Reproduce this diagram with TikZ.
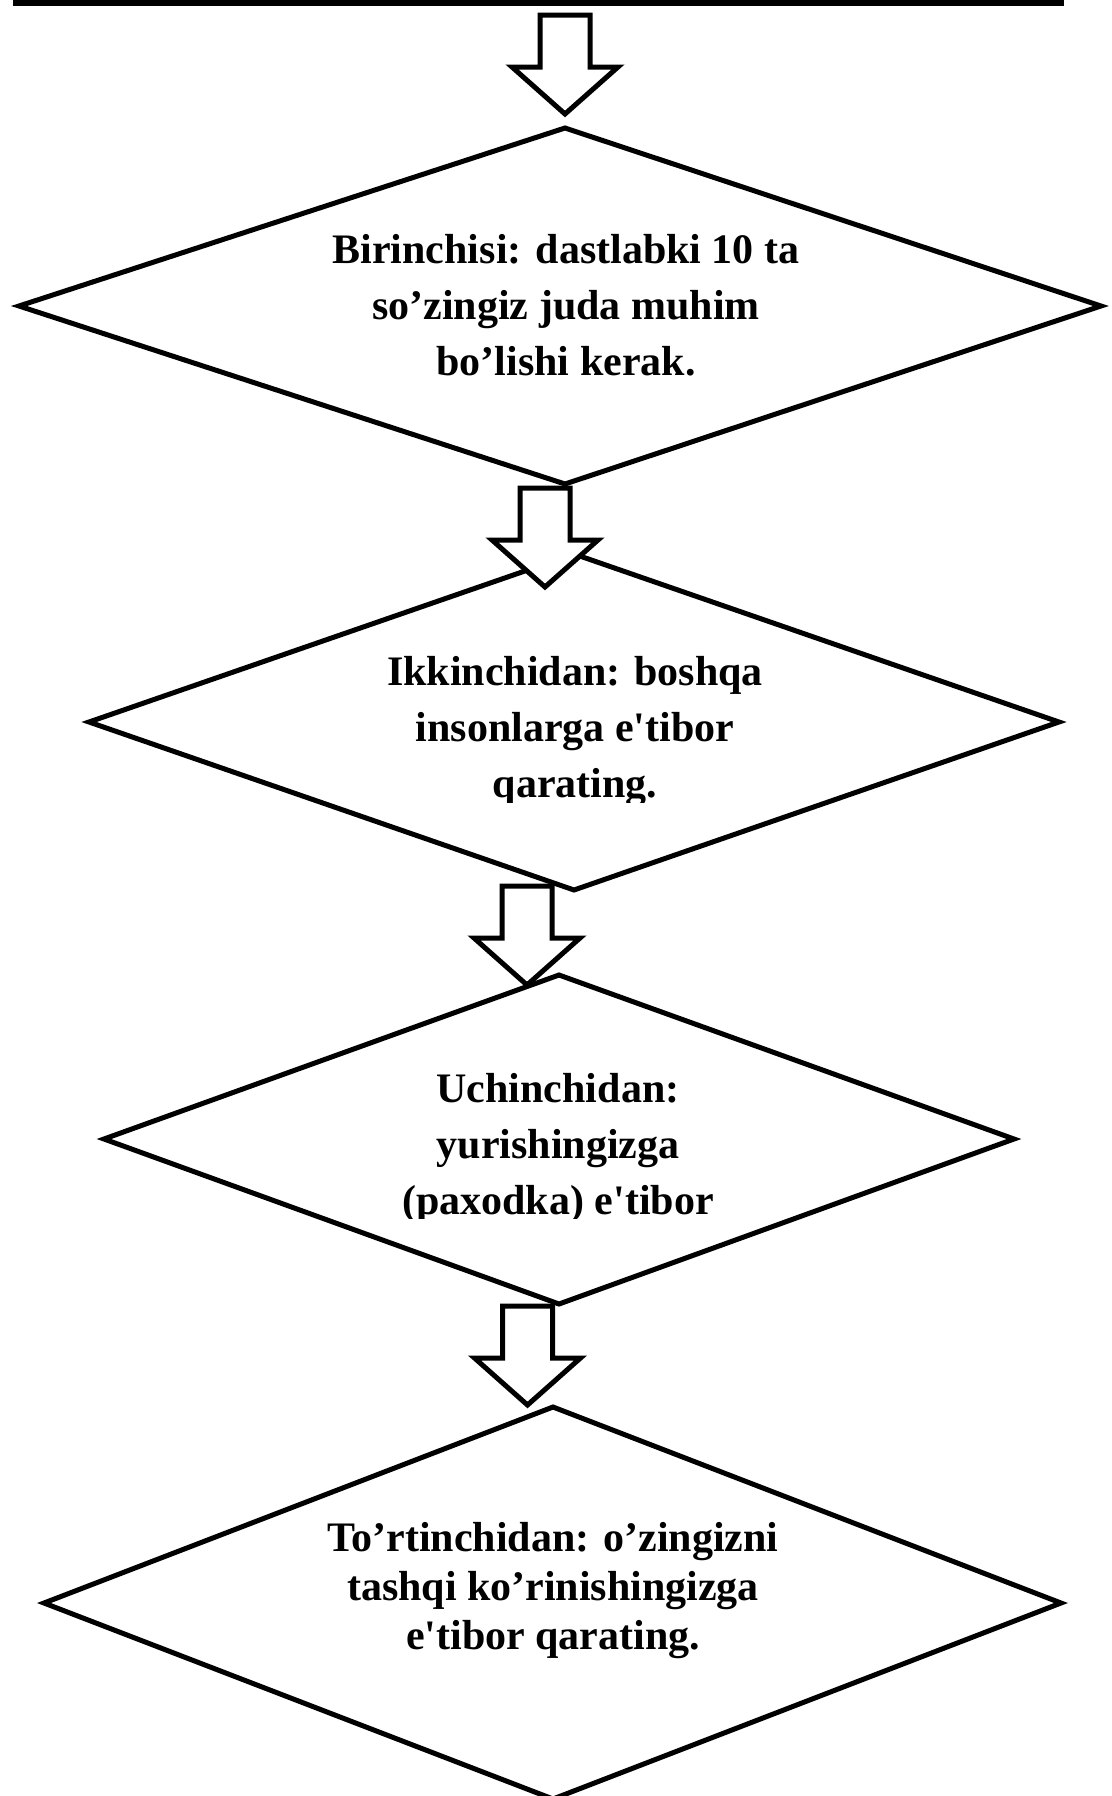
\documentclass[tikz,border=0pt]{standalone}
\usepackage{fontspec}
\setmainfont{Liberation Serif}
\begin{document}
\begin{tikzpicture}[x=1pt,y=-1pt,
  shapeline/.style={draw=black,line width=5pt,fill=white,line join=miter},
  txt/.style={anchor=base,inner sep=0pt,font=\bfseries\fontsize{42}{56}\selectfont},
  pics/blockarrow/.style={code={\draw[shapeline] (-25,0) -- (25,0) -- (25,52) -- (53,52) -- (0,99) -- (-53,52) -- (-25,52) -- cycle;}}]
\clip (0,0) rectangle (1111,1796);
% top box (only its bottom part is visible)
\draw[line width=5.5pt] (16,-30) rectangle (1061,3);
% diamonds
\coordinate (d1t) at (565,128); \coordinate (d1r) at (1101,306);
\coordinate (d1b) at (565,484); \coordinate (d1l) at (19,306);
\draw[shapeline] (d1t) -- (d1r) -- (d1b) -- (d1l) -- cycle;
\coordinate (d2t) at (574,554); \coordinate (d2r) at (1059,722);
\coordinate (d2b) at (574,890); \coordinate (d2l) at (89,722);
\draw[shapeline] (d2t) -- (d2r) -- (d2b) -- (d2l) -- cycle;
\coordinate (d3t) at (559,975); \coordinate (d3r) at (1014,1139);
\coordinate (d3b) at (559,1304); \coordinate (d3l) at (104,1139);
\draw[shapeline] (d3t) -- (d3r) -- (d3b) -- (d3l) -- cycle;
\coordinate (d4t) at (553,1407); \coordinate (d4r) at (1061,1603);
\coordinate (d4b) at (553,1799); \coordinate (d4l) at (44,1603);
\draw[shapeline] (d4t) -- (d4r) -- (d4b) -- (d4l) -- cycle;
% block arrows
\coordinate (a1) at (565,15);
\coordinate (a2) at (545,488);
\coordinate (a3) at (527,886);
\coordinate (a4) at (527.5,1306);
\pic at (a1) {blockarrow};
\pic at (a2) {blockarrow};
\pic at (a3) {blockarrow};
\pic at (a4) {blockarrow};
% texts
\node[txt] (t11) at (566,263) {Birinchisi: dastlabki 10 ta};
\node[txt] (t12) at (566,319) {so’zingiz juda muhim};
\node[txt] (t13) at (566,375) {bo’lishi kerak.};
\begin{scope}
\clip (0,600) rectangle (1111,802);
\node[txt] (t21) at (575,685) {Ikkinchidan: boshqa};
\node[txt] (t22) at (575,741) {insonlarga e\textquotesingle tibor};
\node[txt] (t23) at (575,797) {qarating.};
\end{scope}
\begin{scope}
\clip (0,1000) rectangle (1111,1218);
\node[txt] (t31) at (558,1102) {Uchinchidan:};
\node[txt] (t32) at (558,1158) {yurishingizga};
\node[txt] (t33) at (558,1214) {(paxodka) e\textquotesingle tibor};
\end{scope}
\node[txt] (t41) at (553,1551) {To’rtinchidan: o’zingizni};
\node[txt] (t42) at (553,1600) {tashqi ko’rinishingizga};
\node[txt] (t43) at (553,1649) {e\textquotesingle tibor qarating.};
\end{tikzpicture}
\end{document}
